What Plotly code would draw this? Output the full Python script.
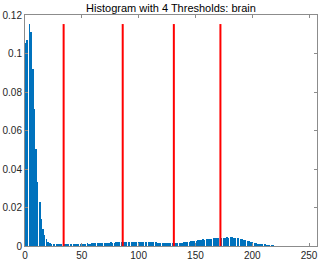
import plotly.graph_objects as go

# normalized histogram of intensity levels 0..255 (every third level empty)
freq = [
    0, 0.1055, 0.1070, 0, 0.1153, 0.1110, 0, 0.0918, 0.0713, 0, 0.0502, 0.0334,
    0, 0.0229, 0.0139, 0, 0.0087, 0.0057, 0, 0.0035, 0.0022, 0, 0.0015, 0.0012,
    0, 0.0010, 0.0010, 0, 0.0009, 0.0009, 0, 0.0008, 0.0009, 0, 0.0008, 0.0009,
    0, 0.0010, 0.0009, 0, 0.0010, 0.0011, 0, 0.0010, 0.0011, 0, 0.0012, 0.0011,
    0, 0.0012, 0.0013, 0, 0.0013, 0.0012, 0, 0.0014, 0.0013, 0, 0.0013, 0.0014,
    0, 0.0015, 0.0014, 0, 0.0014, 0.0015, 0, 0.0016, 0.0015, 0, 0.0017, 0.0016,
    0, 0.0018, 0.0017, 0, 0.0019, 0.0018, 0, 0.0018, 0.0019, 0, 0.0020, 0.0019,
    0, 0.0019, 0.0020, 0, 0.0021, 0.0020, 0, 0.0020, 0.0021, 0, 0.0022, 0.0021,
    0, 0.0021, 0.0022, 0, 0.0022, 0.0021, 0, 0.0022, 0.0021, 0, 0.0021, 0.0020,
    0, 0.0021, 0.0020, 0, 0.0020, 0.0019, 0, 0.0019, 0.0018, 0, 0.0018, 0.0017,
    0, 0.0017, 0.0016, 0, 0.0016, 0.0015, 0, 0.0015, 0.0014, 0, 0.0014, 0.0014,
    0, 0.0015, 0.0016, 0, 0.0016, 0.0017, 0, 0.0018, 0.0019, 0, 0.0020, 0.0021,
    0, 0.0022, 0.0024, 0, 0.0025, 0.0026, 0, 0.0028, 0.0029, 0, 0.0031, 0.0032,
    0, 0.0034, 0.0033, 0, 0.0036, 0.0035, 0, 0.0038, 0.0037, 0, 0.0039, 0.0040,
    0, 0.0041, 0.0040, 0, 0.0042, 0.0043, 0, 0.0044, 0.0043, 0, 0.0045, 0.0044,
    0, 0.0045, 0.0046, 0, 0.0044, 0.0043, 0, 0.0041, 0.0040, 0, 0.0037, 0.0035,
    0, 0.0032, 0.0030, 0, 0.0027, 0.0025, 0, 0.0022, 0.0020, 0, 0.0017, 0.0015,
    0, 0.0013, 0.0011, 0, 0.0009, 0.0008, 0, 0.0006, 0.0005, 0, 0.0004, 0.0003,
    0, 0.0002, 0.0001, 0, 0, 0, 0, 0, 0, 0, 0, 0,
    0, 0, 0, 0, 0, 0, 0, 0, 0, 0, 0, 0,
    0, 0, 0, 0, 0, 0, 0, 0, 0, 0, 0, 0,
    0, 0, 0, 0,
]
levels = list(range(len(freq)))
thresholds = [34, 86, 131, 172]
title = "Histogram with 4 Thresholds: brain"

fig = go.Figure()

fig.add_trace(go.Bar(
    x=levels,
    y=freq,
    width=0.7,
    marker_color='#0072BD',
    marker_line_width=0,
    showlegend=False
))

# threshold lines drawn up to the histogram peak
peak = max(freq)
lx, ly = [], []
for t in thresholds:
    lx += [t, t, None]
    ly += [0, peak, None]
fig.add_trace(go.Scatter(
    x=lx, y=ly,
    mode='lines',
    line=dict(color='#FF0000', width=2),
    showlegend=False
))

axis_style = dict(
    showline=True,
    linecolor='#8c8c8c',
    linewidth=1,
    mirror='ticks',
    ticks='inside',
    ticklen=3,
    tickcolor='#8c8c8c',
    showgrid=False,
    zeroline=False,
    automargin=False,
    tickfont=dict(family='Liberation Sans', size=10, color='#262626'),
)

fig.update_layout(
    width=320,
    height=263,
    margin=dict(l=25, r=3, t=15, b=17),
    paper_bgcolor='white',
    plot_bgcolor='white',
    bargap=0,
    title=dict(
        text=title,
        x=(25 + 317) / 2 / 320,
        xanchor='center',
        y=1 - 8 / 263,
        yanchor='middle',
        font=dict(family='Liberation Sans', size=11, color='#000000')
    ),
    xaxis=dict(range=[0, 257], tickvals=[0, 50, 100, 150, 200, 250], **axis_style),
    yaxis=dict(range=[0, 0.12], tickvals=[0, 0.02, 0.04, 0.06, 0.08, 0.1, 0.12],
               ticktext=['0', '0.02', '0.04', '0.06', '0.08', '0.1', '0.12'], **axis_style),
)

# drop the default page margin so the 320x263 figure fills the window
fig.write_html("out.html",
               config={'displayModeBar': False},
               post_script="document.body.style.margin='0';document.body.style.overflow='hidden';")
